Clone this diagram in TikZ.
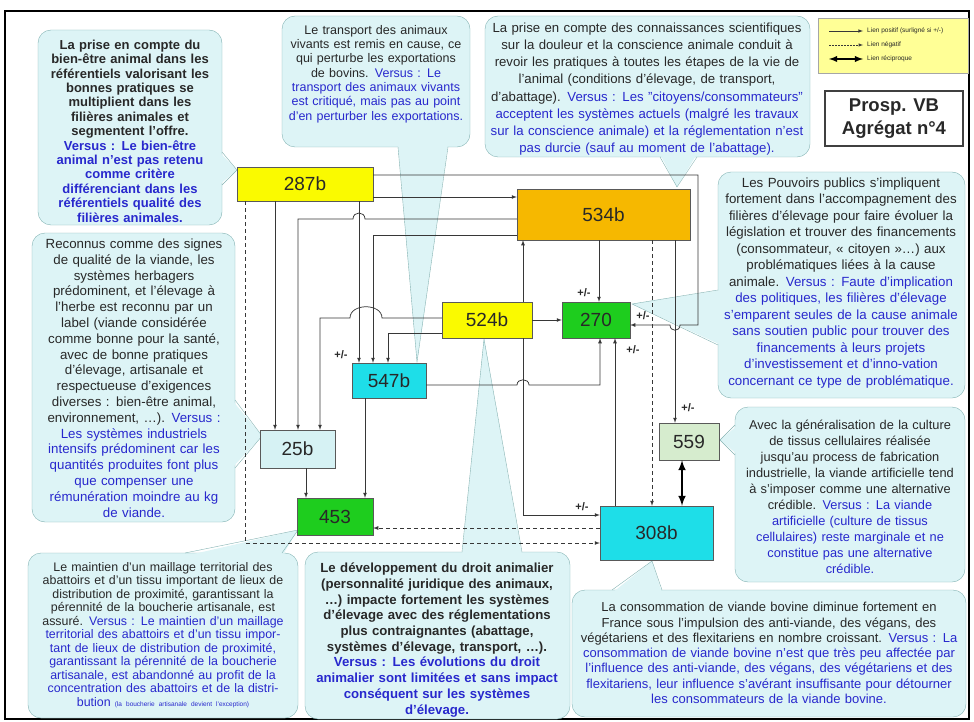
\documentclass[tikz,border=0pt]{standalone}
\usepackage{fontspec}
\setmainfont{Liberation Sans}
\usepackage{xcolor}
\usepackage{tikz}
\definecolor{fondbulle}{RGB}{221,244,246}
\definecolor{bordbulle}{RGB}{130,178,178}
\definecolor{versus}{RGB}{40,40,205}
\definecolor{encre}{RGB}{40,40,40}
\definecolor{jaune}{RGB}{250,250,0}
\definecolor{ocre}{RGB}{246,184,0}
\definecolor{vert}{RGB}{30,205,30}
\definecolor{turquoise}{RGB}{30,222,232}
\definecolor{turquoisepale}{RGB}{214,242,244}
\definecolor{vertpale}{RGB}{214,236,206}
\definecolor{legende}{RGB}{255,255,150}
\definecolor{trait}{RGB}{55,55,55}
\tikzstyle{block} = [rectangle,draw=black!65,thin,text=encre,font=\fontsize{19}{21}\selectfont]
\tikzstyle{bulle} = [rounded corners=13pt,fill=fondbulle,draw=bordbulle,thin]
\tikzstyle{pointe} = [fill=fondbulle]
\tikzstyle{bord} = [draw=bordbulle,thin]
\tikzstyle{texte} = [align=center,text=encre,inner sep=0pt]
\tikzstyle{line} = [-latex,draw=trait,line width=0.75pt]
\tikzstyle{neg} = [-latex,draw=trait,line width=0.75pt,dash pattern=on 4pt off 3pt]
\tikzstyle{signe} = [font=\fontsize{11}{12}\selectfont\bfseries,text=encre]

\begin{document}
\begin{tikzpicture}[x=1pt,y=-1pt]
    \useasboundingbox (0,0) rectangle (974,722);
    \draw[black,line width=1.2pt] (5,11) rectangle (969,719);

    \path[bulle] (38,30) rectangle (222,225);
    \fill[pointe] (219,152) -- (237,170) -- (219,185) -- cycle;
    \draw[bord] (222,152) -- (237,170) -- (222,185);
    \node[texte,text width=180pt,font=\fontsize{13}{14.4}\selectfont\bfseries] (tA) at (130,131) {La prise en compte du\\bien-être animal dans les\\référentiels valorisant les\\bonnes pratiques se\\multiplient dans les\\filières animales et\\segmentent l'offre.\\\color{versus}Versus : Le bien-être\\animal n'est pas retenu\\comme critère\\différenciant dans les\\référentiels qualité des\\filières animales.};

    \path[bulle] (282,16) rectangle (470,147);
    \fill[pointe] (398,144) -- (417,362) -- (448,144) -- cycle;
    \draw[bord] (398,147) -- (417,362) -- (448,147);
    \node[texte,text width=184pt,font=\fontsize{12.5}{14.3}\selectfont] (tB) at (376,74) {Le transport des animaux\\vivants est remis en cause, ce\\qui perturbe les exportations\\de bovins. \color{versus}Versus : Le\\transport des animaux vivants\\est critiqué, mais pas au point\\d'en perturber les exportations.};

    \path[bulle] (485,16) rectangle (810,157);
    \fill[pointe] (660,154) -- (677,187) -- (697,154) -- cycle;
    \draw[bord] (660,157) -- (677,187) -- (697,157);
    \node[texte,text width=320pt,font=\fontsize{13.2}{17.2}\selectfont] (tC) at (647,89) {La prise en compte des connaissances scientifiques\\sur la douleur et la conscience animale conduit à\\revoir les pratiques à toutes les étapes de la vie de\\l'animal (conditions d'élevage, de transport,\\d'abattage). \color{versus}Versus : Les "citoyens/consommateurs"\\acceptent les systèmes actuels (malgré les travaux\\sur la conscience animale) et la réglementation n'est\\pas durcie (sauf au moment de l'abattage).};

    \path[bulle] (718,172) rectangle (965,398);
    \fill[pointe] (721,290) -- (632,304) -- (721,345) -- cycle;
    \draw[bord] (718,290) -- (632,304) -- (718,345);
    \node[texte,text width=245pt,font=\fontsize{13.3}{16.5}\selectfont] (tD) at (841,283) {Les Pouvoirs publics s'impliquent\\fortement dans l'accompagnement des\\filières d'élevage pour faire évoluer la\\législation et trouver des financements\\(consommateur, « citoyen »…) aux\\problématiques liées à la cause\\animale. \color{versus}Versus : Faute d'implication\\des politiques, les filières d'élevage\\s'emparent seules de la cause animale\\sans soutien public pour trouver des\\financements à leurs projets\\d'investissement et d'inno-vation\\concernant ce type de problématique.};

    \path[bulle] (32,233) rectangle (235,522);
    \fill[pointe] (232,400) -- (262,436) -- (232,468) -- cycle;
    \draw[bord] (235,400) -- (262,436) -- (235,468);
    \node[texte,text width=200pt,font=\fontsize{13.3}{15.8}\selectfont] (tE) at (134,378) {Reconnus comme des signes\\de qualité de la viande, les\\systèmes herbagers\\prédominent, et l'élevage à\\l'herbe est reconnu par un\\label (viande considérée\\comme bonne pour la santé,\\avec de bonne pratiques\\d'élevage, artisanale et\\respectueuse d'exigences\\diverses : bien-être animal,\\environnement, …). \color{versus}Versus :\\Les systèmes industriels\\intensifs prédominent car les\\quantités produites font plus\\que compenser une\\rémunération moindre au kg\\de viande.};

    \path[bulle] (735,407) rectangle (965,582);
    \fill[pointe] (738,425) -- (720,440) -- (738,455) -- cycle;
    \draw[bord] (735,425) -- (720,440) -- (735,455);
    \node[texte,text width=228pt,font=\fontsize{12.8}{16}\selectfont] (tF) at (850,497) {Avec la généralisation de la culture\\de tissus cellulaires réalisée\\jusqu'au process de fabrication\\industrielle, la viande artificielle tend\\à s'imposer comme une alternative\\crédible. \color{versus}Versus : La viande\\artificielle (culture de tissus\\cellulaires) reste marginale et ne\\constitue pas une alternative\\crédible.};

    \path[bulle] (28,553) rectangle (298,718);
    \fill[pointe] (185,556) -- (298,530) -- (282,556) -- cycle;
    \draw[bord] (185,553) -- (298,530) -- (282,553);
    \node[texte,text width=268pt,font=\fontsize{12.4}{13.5}\selectfont] (tG) at (163,635) {Le maintien d'un maillage territorial des\\abattoirs et d'un tissu important de lieux de\\distribution de proximité, garantissant la\\pérennité de la boucherie artisanale, est\\assuré. \color{versus}Versus : Le maintien d'un maillage\\territorial des abattoirs et d'un tissu impor-\\tant de lieux de distribution de proximité,\\garantissant la pérennité de la boucherie\\artisanale, est abandonné au profit de la\\concentration des abattoirs et de la distri-\\bution {\fontsize{6.5}{8}\selectfont (la boucherie artisanale devient l'exception)}};

    \path[bulle] (305,552) rectangle (570,719);
    \fill[pointe] (462,555) -- (484,339) -- (522,555) -- cycle;
    \draw[bord] (462,552) -- (484,339) -- (522,552);
    \node[texte,text width=262pt,font=\fontsize{13.2}{15.7}\selectfont\bfseries] (tH) at (437,640) {Le développement du droit animalier\\(personnalité juridique des animaux,\\…) impacte fortement les systèmes\\d'élevage avec des réglementations\\plus contraignantes (abattage,\\systèmes d'élevage, transport, …).\\\color{versus}Versus : Les évolutions du droit\\animalier sont limitées et sans impact\\conséquent sur les systèmes\\d'élevage.};

    \path[bulle] (572,590) rectangle (966,717);
    \fill[pointe] (612,593) -- (652,561) -- (662,593) -- cycle;
    \draw[bord] (612,590) -- (652,561) -- (662,590);
    \node[texte,text width=390pt,font=\fontsize{13}{15.3}\selectfont] (tI) at (769,653) {La consommation de viande bovine diminue fortement en\\France sous l'impulsion des anti-viande, des végans, des\\végétariens et des flexitariens en nombre croissant. \color{versus}Versus : La\\consommation de viande bovine n'est que très peu affectée par\\l'influence des anti-viande, des végans, des végétariens et des\\flexitariens, leur influence s'avérant insuffisante pour détourner\\les consommateurs de la viande bovine.};

    \node[rectangle,fill=legende,draw=black!35,minimum width=150pt,minimum height=55pt] (legende) at (893,45.5) {};
    \node[anchor=west,inner sep=0pt,text=encre,font=\fontsize{6.5}{7}\selectfont] (lpos) at (867,31) {Lien positif (surligné si +/-)};
    \node[anchor=west,inner sep=0pt,text=encre,font=\fontsize{6.5}{7}\selectfont] (lneg) at (867,45) {Lien négatif};
    \node[anchor=west,inner sep=0pt,text=encre,font=\fontsize{6.5}{7}\selectfont] (lrec) at (867,59) {Lien réciproque};
    \draw[line,line width=0.6pt] ([xshift=-38pt]lpos.west) -- ([xshift=-4pt]lpos.west);
    \draw[neg,line width=0.5pt,dash pattern=on 2pt off 1pt] ([xshift=-38pt]lneg.west) -- ([xshift=-4pt]lneg.west);
    \draw[latex-latex,line width=1.8pt] ([xshift=-38pt]lrec.west) -- ([xshift=-4pt]lrec.west);

    \node[rectangle,draw=black!75,line width=1.5pt,fill=white,minimum width=138pt,minimum height=55pt,align=center,text=encre,font=\fontsize{18.5}{23}\selectfont\bfseries] (titre) at (894,118.5) {Prosp. VB\\Agrégat n°4};

    \node[block,fill=jaune,minimum width=136pt,minimum height=34pt] (b287) at (305,184) {287b};
    \node[block,fill=ocre,minimum width=173pt,minimum height=51pt] (b534) at (603.5,214.5) {534b};
    \node[block,fill=jaune,minimum width=90pt,minimum height=36pt] (b524) at (487,320) {524b};
    \node[block,fill=vert,minimum width=68pt,minimum height=36pt] (b270) at (596,320) {270};
    \node[block,fill=turquoise,minimum width=74pt,minimum height=35pt] (b547) at (389,380.5) {547b};
    \node[block,fill=turquoisepale,minimum width=75pt,minimum height=38pt] (b25) at (297.5,449) {25b};
    \node[block,fill=vert,minimum width=76pt,minimum height=37pt] (b453) at (335,516.5) {453};
    \node[block,fill=vertpale,minimum width=60pt,minimum height=37pt] (b559) at (689,441.5) {559};
    \node[block,fill=turquoise,minimum width=113pt,minimum height=54pt] (b308) at (656.5,533) {308b};

    \draw[line] (b287.east |- 0,197) -- (b534.west |- 0,197);
    \draw[line] (b287.east |- 0,175) -- (698,175) -- (698,325) -- (680,325) .. controls (680,332) and (670,332) .. (670,325) -- (b270.east |- 0,325);
    \draw[line] (b534.west |- 0,219) -- (365,219) .. controls (365,211) and (353,211) .. (353,219) -- (298,219) -- (298,0 |- b25.north);
    \draw[line] (b534.west |- 0,235) -- (373,235) -- (373,0 |- b547.north);
    \draw[line] (275,0 |- b287.south) -- (275,0 |- b25.north);
    \draw[line] (359,0 |- b287.south) -- (359,0 |- b547.north);
    \draw[line] (b524.west |- 0,318) -- (382,318) .. controls (382,303) and (350,303) .. (350,318) -- (320,318) -- (320,0 |- b25.north);
    \draw[line] (b524.west |- 0,333) -- (388,333) -- (388,0 |- b547.north);
    \draw[line] (b547.east |- 0,385) -- (517,385) .. controls (517,378) and (529,378) .. (529,385) -- (600,385) -- (600,0 |- b270.south);
    \draw[line] (365,0 |- b547.south) -- (365,0 |- b453.north);
    \draw[line] (306,0 |- b25.south) -- (306,0 |- b453.north);
    \draw[line] (523,0 |- b524.north) -- (523,0 |- b534.south);
    \draw[line] (523,0 |- b524.south) -- (523,515) -- (b308.west |- 0,515);
    \draw[line] (b524) -- (b270);
    \draw[line] (599,0 |- b534.south) -- (599,0 |- b270.north);
    \draw[neg] (652,0 |- b534.south) -- (652,0 |- b308.north);
    \draw[line] (675,0 |- b534.south) -- (675,0 |- b559.north);
    \draw[line] (615,0 |- b308.north) -- (615,0 |- b270.south);
    \draw[latex-latex,line width=2.4pt] (682,0 |- b559.south) -- (682,0 |- b308.north);
    \draw[neg] (245,0 |- b287.south) -- (245,543) -- (b308.west |- 0,543);
    \draw[neg] (b308.west |- 0,528) -- (b453.east |- 0,528);

    \node[signe] (s1) at (341,355) {+/-};
    \node[signe] (s2) at (584,293) {+/-};
    \node[signe] (s3) at (643,316) {+/-};
    \node[signe] (s4) at (633,350) {+/-};
    \node[signe] (s5) at (688,408) {+/-};
    \node[signe] (s6) at (582,507) {+/-};
\end{tikzpicture}
\end{document}
